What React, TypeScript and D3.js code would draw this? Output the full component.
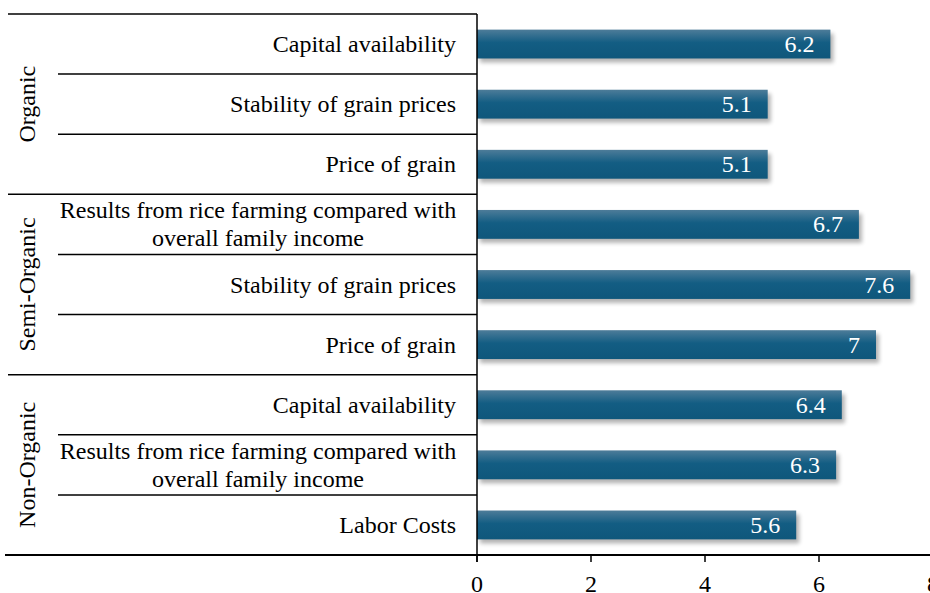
import React from "react";
import * as d3 from "d3";

const groups = ["Organic", "Semi-Organic", "Non-Organic"];
const categories = [
  "Capital availability",
  "Stability of grain prices",
  "Price of grain",
  "Results from rice farming compared with|overall family income",
  "Stability of grain prices",
  "Price of grain",
  "Capital availability",
  "Results from rice farming compared with|overall family income",
  "Labor Costs",
];
const categoryGroup = [0, 0, 0, 1, 1, 1, 2, 2, 2];
const values = [6.2, 5.1, 5.1, 6.7, 7.6, 7, 6.4, 6.3, 5.6];
const xTicks = [0, 2, 4, 6, 8];

const W = 930;
const H = 593;
const font = "'Liberation Serif', 'Times New Roman', serif";

export default function App() {
  const top = 14;
  const bottom = 555;
  const axisX = 477;
  const x = d3.scaleLinear().domain([0, 8]).range([axisX, axisX + 456]);
  const y = d3
    .scaleBand<number>()
    .domain(d3.range(categories.length))
    .range([top, bottom])
    .padding(0);
  const bw = y.bandwidth();
  const barH = bw * 0.48;

  return (
    <div style={{ position: "fixed", left: 0, top: 0, width: W, height: H, overflow: "hidden", background: "#fff" }}>
      <svg width={W} height={H} style={{ display: "block", fontFamily: font }}>
        <defs>
          <linearGradient id="barGrad" x1="0" y1="0" x2="0" y2="1">
            <stop offset="0" stopColor="#4d7c99" />
            <stop offset="0.45" stopColor="#135d83" />
            <stop offset="1" stopColor="#0f577b" />
          </linearGradient>
          <filter id="shadow" x="-5%" y="-30%" width="115%" height="180%">
            <feGaussianBlur stdDeviation="2.2" />
          </filter>
        </defs>

        {/* bars */}
        {values.map((v, i) => {
          const by = (y(i) as number) + (bw - barH) / 2;
          return (
            <g key={i}>
              <rect
                x={x(0) + 3}
                y={by + 4}
                width={x(v) - x(0)}
                height={barH}
                fill="#000"
                opacity={0.3}
                filter="url(#shadow)"
              />
              <rect x={x(0)} y={by} width={x(v) - x(0)} height={barH} fill="url(#barGrad)" />
              <text
                x={x(v) - 16}
                y={by + barH / 2 + 8}
                textAnchor="end"
                fill="#fff"
                fontSize={24}
              >
                {v}
              </text>
            </g>
          );
        })}

        {/* category labels */}
        {categories.map((c, i) => {
          const lines = c.split("|");
          const cy = (y(i) as number) + bw / 2;
          return (
            <text key={i} fontSize={24} fill="#000">
              {lines.map((l, k) => (
                <tspan
                  key={k}
                  x={lines.length > 1 ? 258 : 456}
                  textAnchor={lines.length > 1 ? "middle" : "end"}
                  y={cy + 8 + (k - (lines.length - 1) / 2) * 28}
                >
                  {l}
                </tspan>
              ))}
            </text>
          );
        })}

        {/* separator lines between categories */}
        {categories.map((_, i) => {
          if (i === 0) return null;
          const ly = y(i) as number;
          const groupStart = categoryGroup[i] !== categoryGroup[i - 1];
          return (
            <line
              key={i}
              x1={groupStart ? 8 : 58}
              x2={axisX}
              y1={ly}
              y2={ly}
              stroke="#000"
              strokeWidth={1.5}
            />
          );
        })}
        <line x1={8} x2={axisX} y1={top} y2={top} stroke="#000" strokeWidth={1.5} />

        {/* group labels */}
        {groups.map((g, gi) => {
          const idx = categoryGroup.map((cg, i) => (cg === gi ? i : -1)).filter((i) => i >= 0);
          const y0 = y(idx[0]) as number;
          const y1 = (y(idx[idx.length - 1]) as number) + bw;
          const cy = (y0 + y1) / 2;
          return (
            <text
              key={g}
              transform={`translate(35, ${cy}) rotate(-90)`}
              textAnchor="middle"
              fontSize={24}
              fill="#000"
            >
              {g}
            </text>
          );
        })}

        {/* axes */}
        <line x1={axisX} x2={axisX} y1={top} y2={bottom + 7} stroke="#000" strokeWidth={1.5} />
        <line x1={5} x2={W} y1={bottom} y2={bottom} stroke="#000" strokeWidth={2} />
        {xTicks.map((t) => (
          <g key={t}>
            <line x1={x(t)} x2={x(t)} y1={bottom} y2={bottom + 7} stroke="#000" strokeWidth={1.5} />
            <text x={x(t)} y={592} textAnchor="middle" fontSize={24} fill="#000">
              {t}
            </text>
          </g>
        ))}
      </svg>
    </div>
  );
}
